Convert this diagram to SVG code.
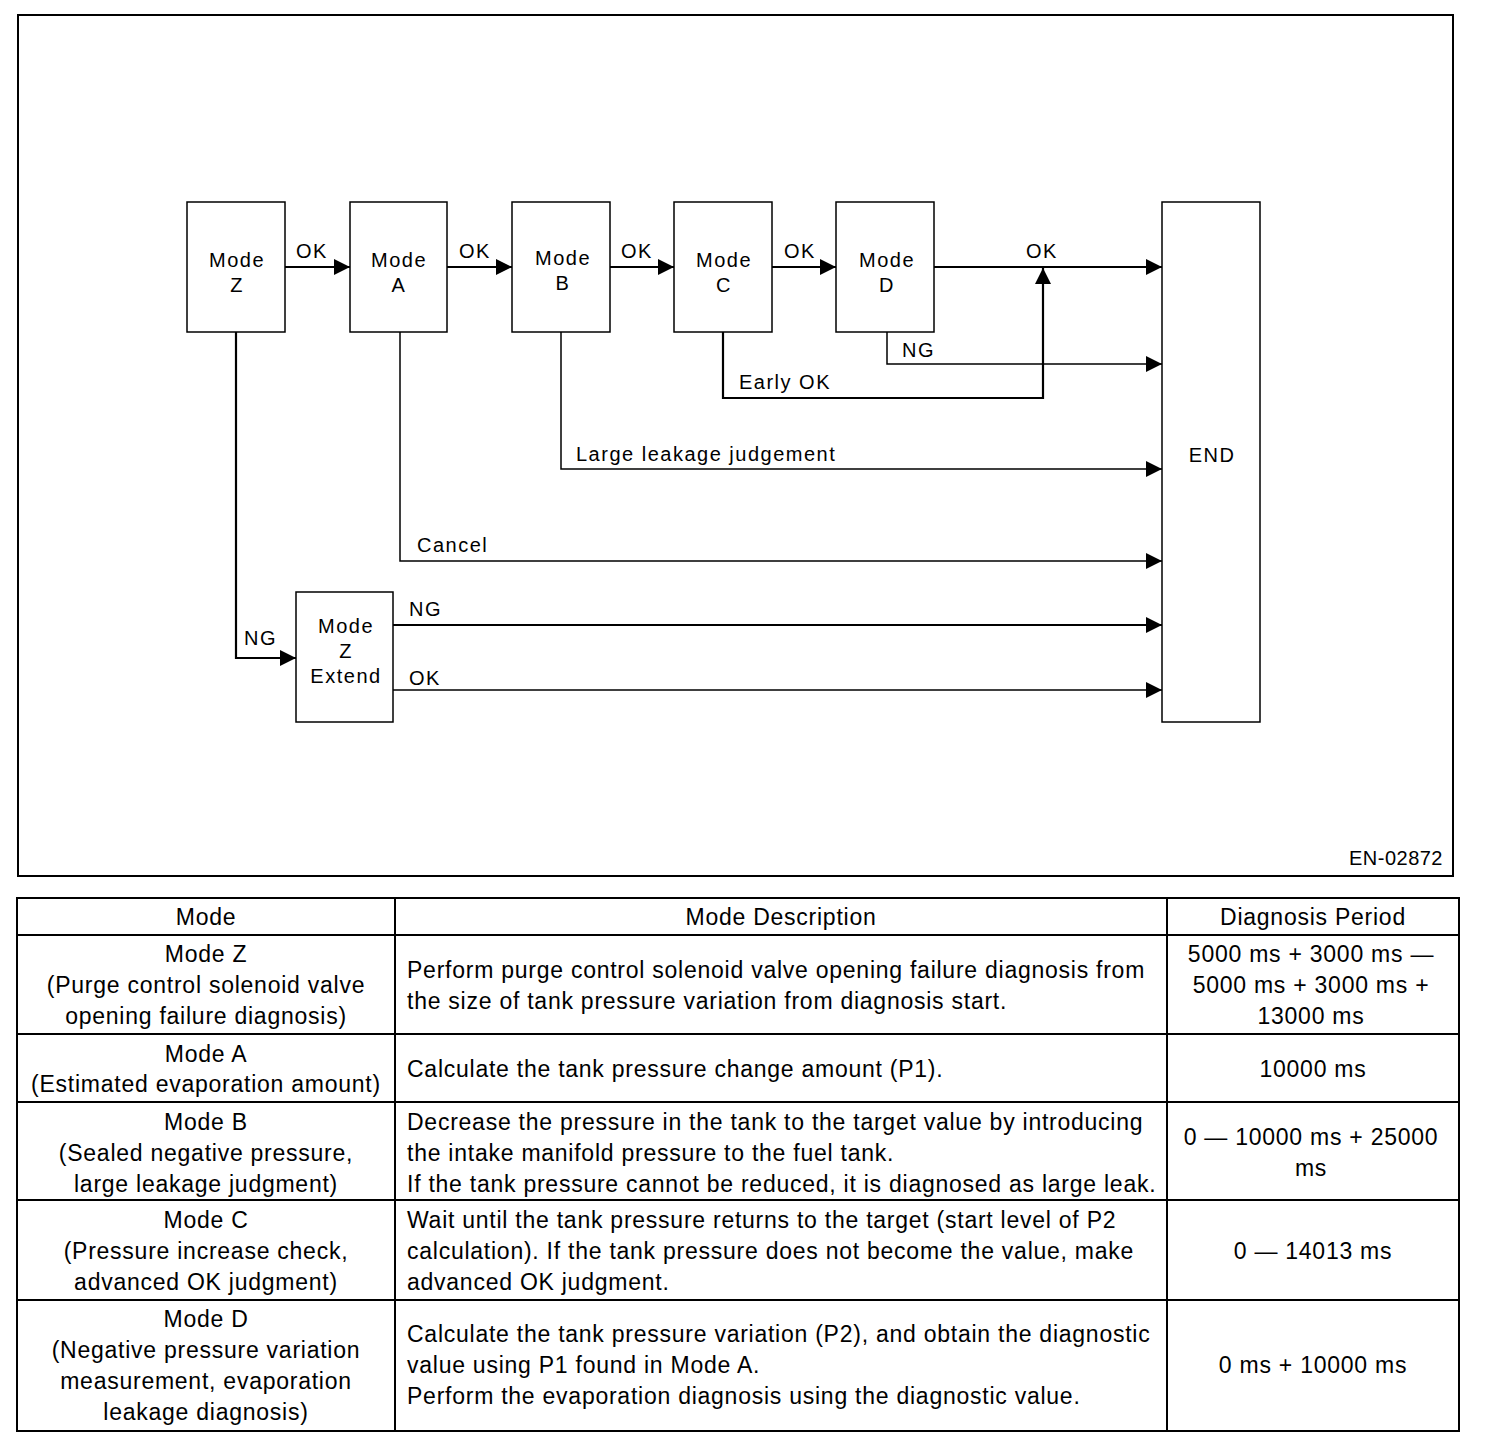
<svg xmlns="http://www.w3.org/2000/svg" width="1504" height="1444" viewBox="0 0 1504 1444">
<defs>
<marker id="ah" viewBox="0 0 10 10" refX="10" refY="5" markerWidth="16" markerHeight="16" markerUnits="userSpaceOnUse" orient="auto">
<path d="M0,0 L10,5 L0,10 Z" fill="#000"/>
</marker>
<style>
.box{fill:#fff;stroke:#000;stroke-width:1.5}
.t{font-family:"Liberation Sans",Arial,sans-serif;font-size:20px;letter-spacing:1.5px;fill:#000}
.c{text-anchor:middle}
.ln{fill:none;stroke:#000;stroke-width:1.5}
.lk{fill:none;stroke:#000;stroke-width:2.2}
.tb{font-family:"Liberation Sans",Arial,sans-serif;font-size:23px;letter-spacing:0.75px;fill:#000}
.grid{fill:none;stroke:#000;stroke-width:2}
</style>
</defs>
<rect width="1504" height="1444" fill="#fff"/>
<rect x="18" y="15" width="1435" height="861" class="grid"/>
<text x="1443" y="865" class="t" text-anchor="end" style="letter-spacing:0.5px">EN-02872</text>

<g id="connectors">
<path d="M285,267 H350" class="lk" marker-end="url(#ah)"/>
<path d="M447,267 H512" class="lk" marker-end="url(#ah)"/>
<path d="M610,267 H674" class="lk" marker-end="url(#ah)"/>
<path d="M772,267 H836" class="lk" marker-end="url(#ah)"/>
<path d="M934,267 H1162" class="lk" marker-end="url(#ah)"/>
<path d="M887,332 V364 H1162" class="ln" marker-end="url(#ah)"/>
<path d="M723,332 V398 H1043 V268" class="lk" marker-end="url(#ah)"/>
<path d="M561,332 V469 H1162" class="ln" marker-end="url(#ah)"/>
<path d="M400,332 V561 H1162" class="ln" marker-end="url(#ah)"/>
<path d="M236,332 V658 H296" class="lk" marker-end="url(#ah)"/>
<path d="M393,625 H1162" class="lk" marker-end="url(#ah)"/>
<path d="M393,690 H1162" class="ln" marker-end="url(#ah)"/>
<text x="296" y="258" class="t">OK</text>
<text x="459" y="258" class="t">OK</text>
<text x="621" y="258" class="t">OK</text>
<text x="784" y="258" class="t">OK</text>
<text x="1026" y="258" class="t">OK</text>
<text x="902" y="357" class="t">NG</text>
<text x="739" y="389" class="t">Early OK</text>
<text x="576" y="461" class="t">Large leakage judgement</text>
<text x="417" y="552" class="t">Cancel</text>
<text x="244" y="645" class="t">NG</text>
<text x="409" y="616" class="t">NG</text>
<text x="409" y="685" class="t">OK</text>
</g>

<g id="modeZ"><rect x="187" y="202" width="98" height="130" class="box"/><text x="237" y="267" class="t c">Mode</text><text x="237" y="292" class="t c">Z</text></g>
<g id="modeA"><rect x="350" y="202" width="97" height="130" class="box"/><text x="399" y="267" class="t c">Mode</text><text x="399" y="292" class="t c">A</text></g>
<g id="modeB"><rect x="512" y="202" width="98" height="130" class="box"/><text x="563" y="265" class="t c">Mode</text><text x="563" y="290" class="t c">B</text></g>
<g id="modeC"><rect x="674" y="202" width="98" height="130" class="box"/><text x="724" y="267" class="t c">Mode</text><text x="724" y="292" class="t c">C</text></g>
<g id="modeD"><rect x="836" y="202" width="98" height="130" class="box"/><text x="887" y="267" class="t c">Mode</text><text x="887" y="292" class="t c">D</text></g>
<g id="end"><rect x="1162" y="202" width="98" height="520" class="box"/><text x="1212" y="462" class="t c">END</text></g>
<g id="modeZExtend"><rect x="296" y="592" width="97" height="130" class="box"/><text x="346" y="633" class="t c">Mode</text><text x="346" y="658" class="t c">Z</text><text x="346" y="683" class="t c">Extend</text></g>

<g id="table">
<rect x="17" y="898" width="1442" height="533" class="grid"/>
<path d="M395,898 V1431 M1167,898 V1431 M17,935 H1459 M17,1034 H1459 M17,1102 H1459 M17,1200 H1459 M17,1300 H1459" class="grid"/>
<text x="206" y="925" class="tb c">Mode</text>
<text x="781" y="925" class="tb c">Mode Description</text>
<text x="1313" y="925" class="tb c">Diagnosis Period</text>

<text x="206" y="962" class="tb c">Mode Z</text>
<text x="206" y="993" class="tb c">(Purge control solenoid valve</text>
<text x="206" y="1024" class="tb c">opening failure diagnosis)</text>
<text x="407" y="978" class="tb">Perform purge control solenoid valve opening failure diagnosis from</text>
<text x="407" y="1009" class="tb">the size of tank pressure variation from diagnosis start.</text>
<text x="1311" y="962" class="tb c">5000 ms + 3000 ms —</text>
<text x="1311" y="993" class="tb c">5000 ms + 3000 ms +</text>
<text x="1311" y="1024" class="tb c">13000 ms</text>

<text x="206" y="1062" class="tb c">Mode A</text>
<text x="206" y="1092" class="tb c">(Estimated evaporation amount)</text>
<text x="407" y="1077" class="tb">Calculate the tank pressure change amount (P1).</text>
<text x="1313" y="1077" class="tb c">10000 ms</text>

<text x="206" y="1130" class="tb c">Mode B</text>
<text x="206" y="1161" class="tb c">(Sealed negative pressure,</text>
<text x="206" y="1192" class="tb c">large leakage judgment)</text>
<text x="407" y="1130" class="tb">Decrease the pressure in the tank to the target value by introducing</text>
<text x="407" y="1161" class="tb">the intake manifold pressure to the fuel tank.</text>
<text x="407" y="1192" class="tb">If the tank pressure cannot be reduced, it is diagnosed as large leak.</text>
<text x="1311" y="1145" class="tb c">0 — 10000 ms + 25000</text>
<text x="1311" y="1176" class="tb c">ms</text>

<text x="206" y="1228" class="tb c">Mode C</text>
<text x="206" y="1259" class="tb c">(Pressure increase check,</text>
<text x="206" y="1290" class="tb c">advanced OK judgment)</text>
<text x="407" y="1228" class="tb">Wait until the tank pressure returns to the target (start level of P2</text>
<text x="407" y="1259" class="tb">calculation). If the tank pressure does not become the value, make</text>
<text x="407" y="1290" class="tb">advanced OK judgment.</text>
<text x="1313" y="1259" class="tb c">0 — 14013 ms</text>

<text x="206" y="1327" class="tb c">Mode D</text>
<text x="206" y="1358" class="tb c">(Negative pressure variation</text>
<text x="206" y="1389" class="tb c">measurement, evaporation</text>
<text x="206" y="1420" class="tb c">leakage diagnosis)</text>
<text x="407" y="1342" class="tb">Calculate the tank pressure variation (P2), and obtain the diagnostic</text>
<text x="407" y="1373" class="tb">value using P1 found in Mode A.</text>
<text x="407" y="1404" class="tb">Perform the evaporation diagnosis using the diagnostic value.</text>
<text x="1313" y="1373" class="tb c">0 ms + 10000 ms</text>
</g>
</svg>
